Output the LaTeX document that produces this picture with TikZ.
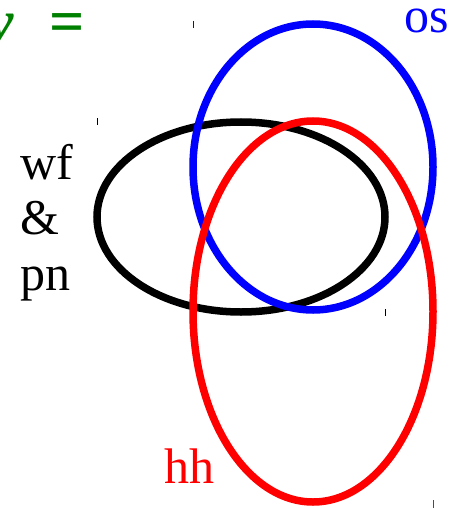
\documentclass[tikz,border=0pt]{standalone}
\usepackage{fontspec}
\setmainfont{Liberation Serif}
\begin{document}
\begin{tikzpicture}[x=1pt,y=-1pt,
  ring/.style={line width=7.5pt},
  lbl/.style={inner sep=0pt,font=\fontsize{50}{55.5}\selectfont},
  tick/.style={line width=1pt}]
\useasboundingbox (0,0) rectangle (466,508);
% ellipses
\draw[ring,black] (241,217) ellipse [x radius=144pt, y radius=95pt];
\draw[ring,blue] (313,167) ellipse [x radius=120pt, y radius=143pt];
\draw[ring,red] (313,311.5) ellipse [x radius=120pt, y radius=190.5pt];
% corner ticks
\draw[tick,black] (97,118) -- (97,125);
\draw[tick,black] (385,309) -- (385,316);
\draw[tick,blue] (193,21) -- (193,28);
\draw[tick,red] (433,500) -- (433,508);
% labels
\node[lbl,anchor=north west,align=left] (wfpn) at (20,144) {wf\\\&\\pn};
\node[lbl,anchor=base west,text=blue] (os) at (404,33) {os};
\node[lbl,anchor=base west,text=red] (hh) at (164,483) {hh};
\node[inner sep=0pt,font=\fontsize{62}{70}\selectfont\bfseries,anchor=base east,
  text={rgb,255:red,0;green,128;blue,0}] (eq) at (85,43) {\itshape y\upshape\hspace{35pt}=};
\end{tikzpicture}
\end{document}
